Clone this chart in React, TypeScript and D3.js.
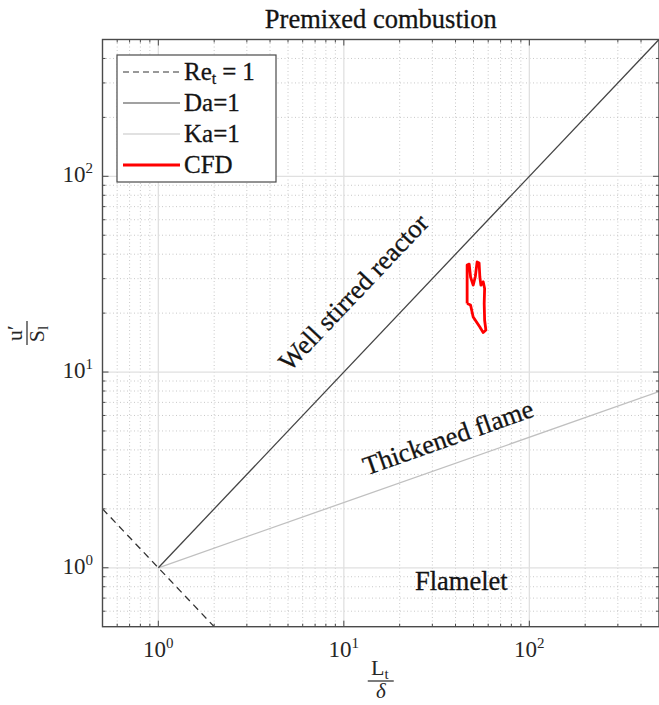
import React from 'react';
import * as d3 from 'd3';

const chartTitle = 'Premixed combustion';
const xDomain = [0.5, 500];
const yDomain = [0.5, 500];
const majorTicks = [1, 10, 100];
const tickExponents = ['0', '1', '2'];

// Re_t = 1 : y = 1/x
const reX = [0.5, 2];
const reY = [2, 0.5];
// Da = 1 : y = x
const daX = [1, 500];
const daY = [1, 500];
// Ka = 1 : y = x^(1/3)
const kaX = [1, 500];
const kaY = [1, 7.94];
// CFD contour
const cfdX = [46.2, 46.2, 47.4, 48.2, 49.8, 51.1, 52.3, 53.6, 54.1, 54.8, 56.4, 57.4, 57.1, 57.4, 58.3, 56.4, 54.1, 49.8, 48.2, 46.2];
const cfdY = [22.4, 35.2, 35.6, 30.6, 27.8, 30.6, 36.5, 36.1, 30.6, 27.8, 28.9, 26.7, 22.4, 18.4, 16.4, 15.9, 17.0, 19.1, 22.0, 22.4];

const legendLabels = ['Re', 'Da=1', 'Ka=1', 'CFD'];
const annotations = [
  { text: 'Well stirred reactor', x: 12.2, y: 23.8, along: 'da' },
  { text: 'Thickened flame', x: 37.8, y: 4.2, along: 'ka' },
  { text: 'Flamelet', x: 43.0, y: 0.77, along: 'none' },
];

const W = 659;
const H = 705;
const FONT = '"Liberation Serif", "Times New Roman", serif';

export default function App() {
  const x = d3.scaleLog().domain(xDomain).range([102.5, 659]);
  const y = d3.scaleLog().domain(yDomain).range([626.7, 39.5]);
  const [x0, x1] = x.range();
  const [y0, y1] = y.range();

  const minorX = x.ticks().filter((t) => !majorTicks.includes(t) && t > xDomain[0] && t < xDomain[1]);
  const minorY = y.ticks().filter((t) => !majorTicks.includes(t) && t > yDomain[0] && t < yDomain[1]);

  const line = d3
    .line<[number, number]>()
    .x((d) => x(d[0]))
    .y((d) => y(d[1]));
  const pts = (xs: number[], ys: number[]) => xs.map((v, i) => [v, ys[i]] as [number, number]);

  const angleOf = (xs: number[], ys: number[]) =>
    (Math.atan2(y(ys[1]) - y(ys[0]), x(xs[1]) - x(xs[0])) * 180) / Math.PI;
  const daAngle = angleOf(daX, daY);
  const kaAngle = angleOf(kaX, kaY);

  const majLen = 6;
  const minLen = 3;
  const axisColor = '#4a4a4a';
  const textColor = '#141414';

  const legX = 117;
  const legY = 55;
  const legW = 159;
  const legH = 127;
  const rowY = (i: number) => legY + 17 + i * 31;
  const legendStyles = [
    { stroke: '#333', width: 1.2, dash: '6,4' },
    { stroke: '#444', width: 1.2, dash: undefined },
    { stroke: '#c4c4c4', width: 1.2, dash: undefined },
    { stroke: '#ff0000', width: 3, dash: undefined },
  ];

  const textStroke = { stroke: textColor, strokeWidth: 0.3 };

  return (
    <svg
      width={W}
      height={H}
      style={{ position: 'absolute', left: 0, top: 0, background: '#fff' }}
      fontFamily={FONT}
    >
      <defs>
        <clipPath id="plotclip">
          <rect x={x0} y={y1} width={x1 - x0} height={y0 - y1} />
        </clipPath>
      </defs>
      <rect x={0} y={0} width={W} height={H} fill="#fff" />

      {/* minor grid */}
      <g stroke="#c8c8c8" strokeWidth={1} strokeDasharray="1,2.5">
        {minorX.map((t) => (
          <line key={'mx' + t} x1={x(t)} x2={x(t)} y1={y1} y2={y0} />
        ))}
        {minorY.map((t) => (
          <line key={'my' + t} x1={x0} x2={x1} y1={y(t)} y2={y(t)} />
        ))}
      </g>
      {/* major grid */}
      <g stroke="#e0e0e0" strokeWidth={1.3}>
        {majorTicks.map((t) => (
          <line key={'gx' + t} x1={x(t)} x2={x(t)} y1={y1} y2={y0} />
        ))}
        {majorTicks.map((t) => (
          <line key={'gy' + t} x1={x0} x2={x1} y1={y(t)} y2={y(t)} />
        ))}
      </g>

      {/* data lines */}
      <g clipPath="url(#plotclip)" fill="none">
        <path d={line(pts(kaX, kaY)) || ''} stroke="#c0c0c0" strokeWidth={1.3} />
        <path d={line(pts(daX, daY)) || ''} stroke="#444" strokeWidth={1.3} />
        <path d={line(pts(reX, reY)) || ''} stroke="#333" strokeWidth={1.3} strokeDasharray="7,5" />
        <path d={line(pts(cfdX, cfdY)) || ''} stroke="#ff0000" strokeWidth={2.8} strokeLinejoin="round" />
      </g>

      {/* ticks */}
      <g stroke={axisColor} strokeWidth={1}>
        {majorTicks.map((t) => (
          <g key={'tx' + t}>
            <line x1={x(t)} x2={x(t)} y1={y0} y2={y0 - majLen} />
            <line x1={x(t)} x2={x(t)} y1={y1} y2={y1 + majLen} />
            <line x1={x0} x2={x0 + majLen} y1={y(t)} y2={y(t)} />
            <line x1={x1} x2={x1 - majLen} y1={y(t)} y2={y(t)} />
          </g>
        ))}
        {minorX.map((t) => (
          <g key={'mtx' + t}>
            <line x1={x(t)} x2={x(t)} y1={y0} y2={y0 - minLen} />
            <line x1={x(t)} x2={x(t)} y1={y1} y2={y1 + minLen} />
          </g>
        ))}
        {minorY.map((t) => (
          <g key={'mty' + t}>
            <line x1={x0} x2={x0 + minLen} y1={y(t)} y2={y(t)} />
            <line x1={x1} x2={x1 - minLen} y1={y(t)} y2={y(t)} />
          </g>
        ))}
      </g>

      {/* axes box */}
      <rect x={x0} y={y1} width={x1 - x0} height={y0 - y1} fill="none" stroke={axisColor} strokeWidth={1.4} />

      {/* tick labels */}
      <g fill="#262626">
        {majorTicks.map((t, i) => (
          <text key={'xl' + t} x={x(t)} y={657} textAnchor="middle" fontSize={23}>
            10
            <tspan dy={-9} fontSize={15}>
              {tickExponents[i]}
            </tspan>
          </text>
        ))}
        {majorTicks.map((t, i) => (
          <text key={'yl' + t} x={93} y={y(t) + 6} textAnchor="end" fontSize={23}>
            10
            <tspan dy={-9} fontSize={15}>
              {tickExponents[i]}
            </tspan>
          </text>
        ))}
      </g>

      {/* annotations */}
      <g fill={textColor} fontSize={26.5} {...textStroke}>
        {annotations.map((a) => {
          const ang = a.along === 'da' ? daAngle : a.along === 'ka' ? kaAngle : 0;
          return (
            <text
              key={a.text}
              textAnchor="middle"
              transform={`translate(${x(a.x)},${y(a.y)}) rotate(${ang})`}
            >
              {a.text}
            </text>
          );
        })}
      </g>

      {/* title */}
      <text x={(x0 + x1) / 2} y={28} textAnchor="middle" fontSize={26.5} fill={textColor} {...textStroke}>
        {chartTitle}
      </text>

      {/* x label */}
      <g transform={`translate(${(x0 + x1) / 2},681)`} fill="#262626">
        <text x={-1} y={-6} textAnchor="middle" fontSize={22}>
          L
          <tspan dy={4} fontSize={15}>
            t
          </tspan>
        </text>
        <line x1={-13} x2={13} y1={0} y2={0} stroke="#262626" strokeWidth={1.2} />
        <text x={0} y={17} textAnchor="middle" fontSize={21} fontStyle="italic">
          δ
        </text>
      </g>

      {/* y label */}
      <g transform={`translate(27,${(y0 + y1) / 2}) rotate(-90)`} fill="#262626">
        <text x={0} y={-5} textAnchor="middle" fontSize={22}>
          u′
        </text>
        <line x1={-12} x2={12} y1={0} y2={0} stroke="#262626" strokeWidth={1.2} />
        <text x={-1} y={17} textAnchor="middle" fontSize={22}>
          S
          <tspan dy={4} fontSize={15}>
            l
          </tspan>
        </text>
      </g>

      {/* legend */}
      <g>
        <rect x={legX} y={legY} width={legW} height={legH} fill="#fff" stroke={axisColor} strokeWidth={1.2} />
        {legendLabels.map((lab, i) => {
          const s = legendStyles[i];
          return (
            <g key={lab}>
              <line
                x1={123}
                x2={180}
                y1={rowY(i)}
                y2={rowY(i)}
                stroke={s.stroke}
                strokeWidth={s.width}
                strokeDasharray={s.dash}
              />
              <text x={184} y={rowY(i) + 8} fontSize={25} fill={textColor} {...textStroke}>
                {i === 0 ? (
                  <>
                    Re
                    <tspan dy={4} fontSize={16}>
                      t
                    </tspan>
                    <tspan dy={-4} dx={6}>
                      =
                    </tspan>
                    <tspan dx={6}>1</tspan>
                  </>
                ) : (
                  lab
                )}
              </text>
            </g>
          );
        })}
      </g>
    </svg>
  );
}
